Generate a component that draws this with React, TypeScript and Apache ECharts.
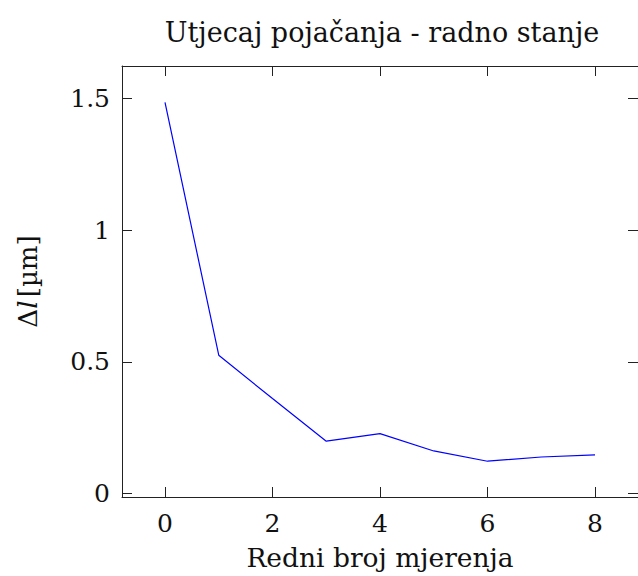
import React, { useEffect, useRef } from "react";
import * as echarts from "echarts";

const measurementIdx = [0, 1, 2, 3, 4, 5, 6, 7, 8];
const deltaL = [1.486, 0.525, 0.36, 0.198, 0.227, 0.161, 0.122, 0.138, 0.146];
const xTicks = [0, 2, 4, 6, 8];
const yTicks = [0, 0.5, 1, 1.5];
const titleText = "Utjecaj pojačanja - radno stanje";
const xName = "Redni broj mjerenja";

const FONT = "DejaVu Serif";

export default function App() {
  const ref = useRef<HTMLDivElement>(null);
  useEffect(() => {
    if (!ref.current) return;
    const chart = echarts.init(ref.current, undefined, { renderer: "svg" });
    const axisLineStyle = { color: "#222", width: 1 };
    const tickCommon = { show: true, inside: true, length: 10, lineStyle: { color: "#222", width: 1 } };
    const xMin = -0.8, xMax = 8.8, yMin = -0.014, yMax = 1.624;
    chart.setOption({
      animation: false,
      backgroundColor: "#fff",
      graphic: [
        {
          type: "text",
          x: 382,
          y: 32,
          style: {
            text: titleText,
            align: "center",
            verticalAlign: "middle",
            fontFamily: FONT,
            fontSize: 27,
            fill: "#111",
          },
        },
      ],
      grid: { left: 122, top: 66, width: 518, height: 431, containLabel: false },
      xAxis: [
        {
          type: "value",
          min: xMin,
          max: xMax,
          position: "bottom",
          axisLine: { show: true, onZero: false, lineStyle: axisLineStyle },
          axisTick: { ...tickCommon, customValues: xTicks },
          axisLabel: {
            customValues: xTicks,
            fontFamily: FONT,
            fontSize: 25,
            color: "#111",
            margin: 14,
            formatter: (v: number) => String(v),
          },
          splitLine: { show: false },
          name: xName,
          nameLocation: "middle",
          nameGap: 60,
          nameTextStyle: { fontFamily: FONT, fontSize: 26.5, color: "#111", verticalAlign: "middle" },
        },
        {
          type: "value",
          min: xMin,
          max: xMax,
          position: "top",
          axisLine: { show: true, onZero: false, lineStyle: axisLineStyle },
          axisTick: { ...tickCommon, customValues: xTicks },
          axisLabel: { show: false },
          splitLine: { show: false },
        },
      ],
      yAxis: [
        {
          type: "value",
          min: yMin,
          max: yMax,
          position: "left",
          axisLine: { show: true, onZero: false, lineStyle: axisLineStyle },
          axisTick: { ...tickCommon, customValues: yTicks },
          axisLabel: {
            customValues: yTicks,
            fontFamily: FONT,
            fontSize: 25,
            color: "#111",
            margin: 12,
            formatter: (v: number) => String(v),
          },
          splitLine: { show: false },
          name: "{a|Δ}{i|l} {a|[µm]}",
          nameLocation: "middle",
          nameGap: 94,
          nameRotate: 90,
          nameTextStyle: {
            verticalAlign: "middle",
            rich: {
              a: { fontFamily: FONT, fontSize: 26, color: "#111" },
              i: { fontFamily: FONT, fontSize: 26, color: "#111", fontStyle: "italic" },
            },
          },
        },
        {
          type: "value",
          min: yMin,
          max: yMax,
          position: "right",
          axisLine: { show: true, onZero: false, lineStyle: axisLineStyle },
          axisTick: { ...tickCommon, customValues: yTicks },
          axisLabel: { show: false },
          splitLine: { show: false },
        },
      ],
      series: [
        {
          type: "line",
          data: measurementIdx.map((x, i) => [x, deltaL[i]]),
          showSymbol: false,
          symbol: "none",
          lineStyle: { color: "#0000ff", width: 1.2 },
          xAxisIndex: 0,
          yAxisIndex: 0,
        },
      ],
    });
    return () => chart.dispose();
  }, []);
  return (
    <div
      ref={ref}
      style={{ position: "fixed", left: 0, top: 0, width: 638, height: 576 }}
    />
  );
}
